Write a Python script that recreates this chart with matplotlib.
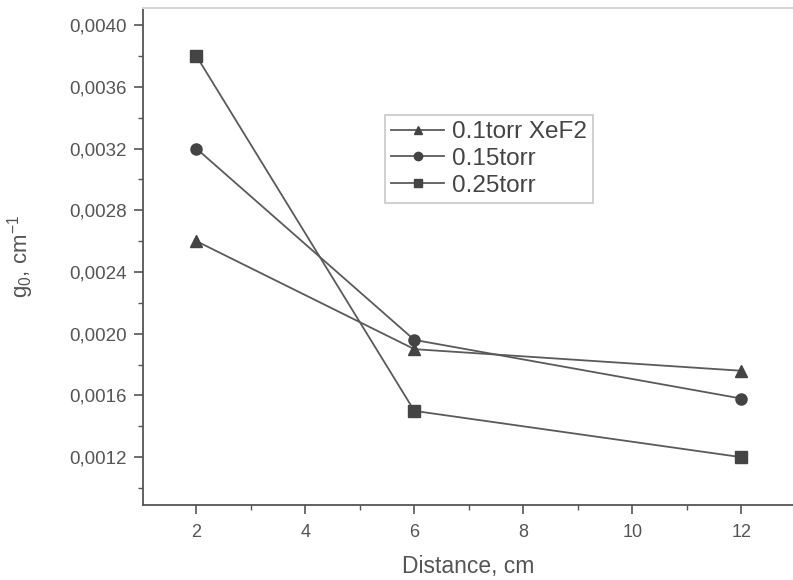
import matplotlib.pyplot as plt
from matplotlib.ticker import MultipleLocator, FuncFormatter

plt.rcParams['font.family'] = ['Liberation Sans', 'DejaVu Sans']
plt.rcParams['mathtext.fontset'] = 'custom'
plt.rcParams['mathtext.rm'] = 'Liberation Sans'
plt.rcParams['mathtext.it'] = 'Liberation Sans'

# data
distance = [2, 6, 12]
g_01torr = [0.0026, 0.0019, 0.00176]
g_015torr = [0.0032, 0.00196, 0.00158]
g_025torr = [0.0038, 0.0015, 0.0012]

line_col = '#5a5a5a'
mark_col = '#444444'
text_col = '#555555'

fig = plt.figure(figsize=(7.93, 5.8), dpi=100)
ax = fig.add_axes([0.1803, 0.1293, 0.8197, 0.8567])

series = [
    (g_01torr, '^', '0.1torr XeF2'),
    (g_015torr, 'o', '0.15torr'),
    (g_025torr, 's', '0.25torr'),
]
for vals, mk, lab in series:
    ax.plot(distance, vals, color=line_col, lw=1.3, marker=mk, markersize=8,
            markerfacecolor=mark_col, markeredgecolor=mark_col, label=lab)

ax.set_xlim(1.02, 12.95)
ax.set_ylim(0.00089, 0.00411)

ax.xaxis.set_major_locator(MultipleLocator(2))
ax.xaxis.set_minor_locator(MultipleLocator(1))
ax.yaxis.set_major_locator(MultipleLocator(0.0004))
ax.yaxis.set_minor_locator(MultipleLocator(0.0002))
ax.yaxis.set_major_formatter(FuncFormatter(lambda v, p: f"{v:.4f}".replace('.', ',')))

for s in ['left', 'bottom']:
    ax.spines[s].set_color('#555555')
    ax.spines[s].set_linewidth(1.3)
ax.spines['top'].set_color('#d8d8d8')
ax.spines['top'].set_linewidth(1.5)
ax.spines['right'].set_visible(False)

ax.tick_params(which='major', direction='out', length=6.5, width=1.2, color='#555555',
               labelcolor=text_col, pad=5)
ax.tick_params(axis='y', which='major', labelsize=13.5)
ax.tick_params(axis='x', which='major', labelsize=13, pad=7)
ax.tick_params(which='minor', direction='out', length=3.6, width=1.0, color='#555555')
ax.tick_params(top=False, right=False, which='both')

ax.set_xlabel('Distance, cm', fontsize=16.5, color=text_col, labelpad=10)
ax.set_ylabel('g$_0$, cm$^{-1}$', fontsize=16, color=text_col, labelpad=24)

leg = ax.legend(loc='upper left', bbox_to_anchor=(0.372, 0.785), fontsize=17.5,
                frameon=True, fancybox=False, edgecolor='#bbbbbb', handlelength=2.2,
                handletextpad=0.3, borderpad=0.25, labelspacing=0.2, markerscale=0.75,
                borderaxespad=0)
leg.get_frame().set_linewidth(1.2)
for t in leg.get_texts():
    t.set_color('#444444')

fig.savefig('out.png', dpi=100)
